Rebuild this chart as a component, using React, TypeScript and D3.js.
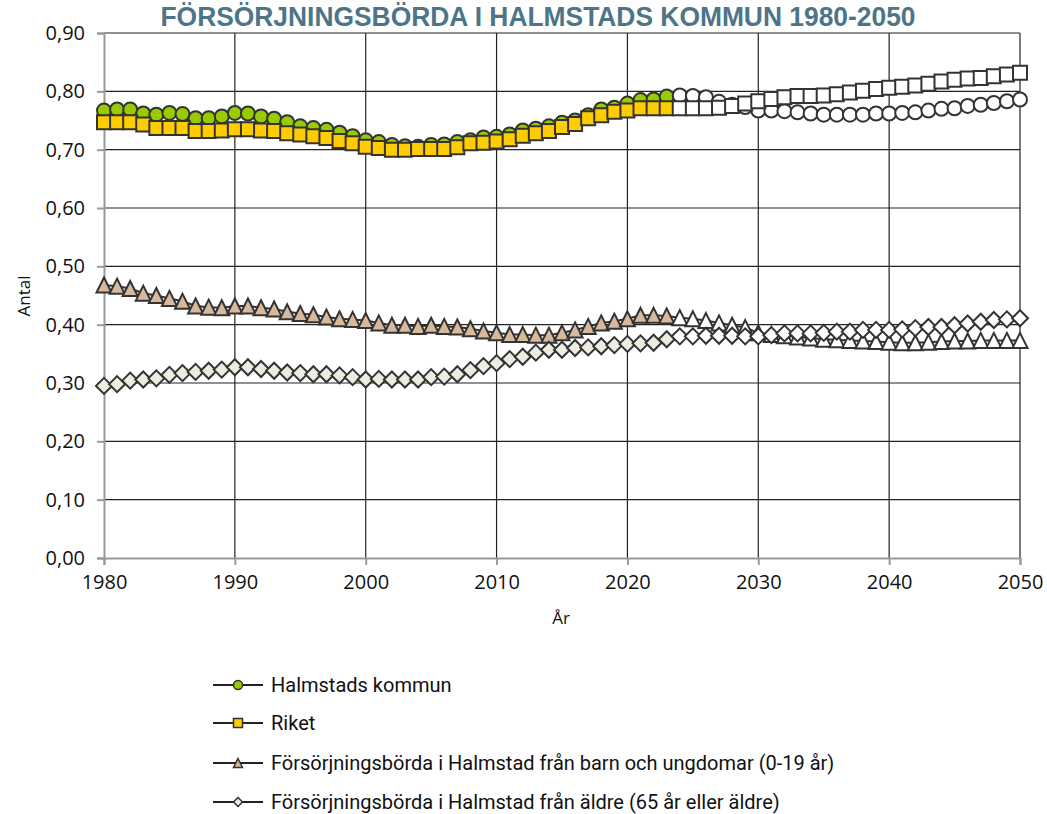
import { useEffect, useRef } from 'react'
import * as d3 from 'd3'

const years = d3.range(1980, 2051)
const lastActualYear = 2023

const halmstad = [
  0.767, 0.769, 0.769, 0.762, 0.760, 0.763, 0.761, 0.754, 0.754, 0.757,
  0.763, 0.762, 0.757, 0.753, 0.747, 0.740, 0.737, 0.734, 0.729, 0.723,
  0.716, 0.713, 0.708, 0.706, 0.705, 0.708, 0.709, 0.713, 0.716, 0.721,
  0.722, 0.726, 0.733, 0.736, 0.740, 0.746, 0.750, 0.759, 0.769, 0.772,
  0.779, 0.785, 0.786, 0.791, 0.793, 0.792, 0.790, 0.782, 0.777, 0.773,
  0.767, 0.767, 0.766, 0.764, 0.762, 0.760, 0.760, 0.760, 0.760, 0.762,
  0.762, 0.763, 0.764, 0.767, 0.770, 0.771, 0.775, 0.777, 0.780, 0.783, 0.786,
]

const riket = [
  0.747, 0.747, 0.747, 0.743, 0.737, 0.737, 0.737, 0.732, 0.732, 0.733,
  0.735, 0.735, 0.733, 0.732, 0.728, 0.726, 0.723, 0.720, 0.715, 0.711,
  0.705, 0.703, 0.700, 0.700, 0.701, 0.701, 0.701, 0.704, 0.711, 0.712,
  0.714, 0.718, 0.724, 0.728, 0.732, 0.739, 0.744, 0.754, 0.759, 0.765,
  0.767, 0.771, 0.771, 0.771, 0.771, 0.771, 0.771, 0.772, 0.775, 0.779,
  0.783, 0.787, 0.790, 0.792, 0.792, 0.793, 0.795, 0.798, 0.801, 0.804,
  0.806, 0.808, 0.810, 0.813, 0.817, 0.820, 0.822, 0.823, 0.826, 0.829, 0.832,
]

const youth = [
  0.468, 0.466, 0.462, 0.454, 0.450, 0.445, 0.440, 0.432, 0.430, 0.429,
  0.432, 0.432, 0.429, 0.427, 0.422, 0.419, 0.417, 0.413, 0.410, 0.409,
  0.407, 0.403, 0.399, 0.399, 0.397, 0.399, 0.397, 0.396, 0.393, 0.389,
  0.386, 0.383, 0.383, 0.382, 0.382, 0.386, 0.391, 0.397, 0.403, 0.406,
  0.410, 0.416, 0.416, 0.415, 0.412, 0.410, 0.407, 0.403, 0.399, 0.395,
  0.386, 0.383, 0.381, 0.379, 0.377, 0.375, 0.374, 0.373, 0.372, 0.371,
  0.370, 0.369, 0.369, 0.370, 0.371, 0.372, 0.372, 0.373, 0.373, 0.373, 0.373,
]

const elderly = [
  0.295, 0.298, 0.304, 0.306, 0.308, 0.314, 0.317, 0.319, 0.321, 0.323,
  0.327, 0.327, 0.324, 0.321, 0.318, 0.317, 0.315, 0.315, 0.313, 0.310,
  0.306, 0.307, 0.306, 0.306, 0.306, 0.310, 0.311, 0.315, 0.322, 0.329,
  0.334, 0.341, 0.345, 0.352, 0.357, 0.357, 0.360, 0.361, 0.363, 0.365,
  0.367, 0.368, 0.369, 0.375, 0.380, 0.380, 0.381, 0.381, 0.381, 0.380,
  0.380, 0.382, 0.385, 0.385, 0.385, 0.386, 0.388, 0.388, 0.391, 0.391,
  0.391, 0.392, 0.394, 0.396, 0.396, 0.399, 0.402, 0.405, 0.408, 0.409, 0.411,
]

const yTicks = [0, 0.1, 0.2, 0.3, 0.4, 0.5, 0.6, 0.7, 0.8, 0.9]
const xTicks = [1980, 1990, 2000, 2010, 2020, 2030, 2040, 2050]

type Shape = 'circle' | 'square' | 'triangle' | 'diamond'

const series: { name: string; values: number[]; shape: Shape; fill: string }[] = [
  { name: 'Halmstads kommun', values: halmstad, shape: 'circle', fill: '#99CC00' },
  { name: 'Riket', values: riket, shape: 'square', fill: '#FFCC00' },
  { name: 'Försörjningsbörda i Halmstad från barn och ungdomar (0-19 år)', values: youth, shape: 'triangle', fill: '#D9B99B' },
  { name: 'Försörjningsbörda i Halmstad från äldre (65 år eller äldre)', values: elderly, shape: 'diamond', fill: '#EEEBE0' },
]

// marker outline centred on 0,0
function markerPath(shape: Shape, s: number) {
  const h = s / 2
  switch (shape) {
    case 'circle':
      return `M${-h},0A${h},${h} 0 1,0 ${h},0A${h},${h} 0 1,0 ${-h},0Z`
    case 'square':
      return `M${-h},${-h}H${h}V${h}H${-h}Z`
    case 'triangle':
      return `M0,${-h}L${h},${h}L${-h},${h}Z`
    default:
      return `M0,${-h}L${h},0L0,${h}L${-h},0Z`
  }
}

const FONT = 'Open Sans, Arial, sans-serif'

export default function App() {
  const svgRef = useRef<SVGSVGElement>(null)

  useEffect(() => {
    if (!svgRef.current) return
    const svg = d3.select(svgRef.current)
    svg.selectAll('*').remove()

    const x = d3.scaleLinear().domain([1980, 2050]).range([104, 1020])
    const y = d3.scaleLinear().domain([0, 0.9]).range([558, 33])

    // Title
    svg.append('text')
      .attr('x', 538)
      .attr('y', 26)
      .attr('text-anchor', 'middle')
      .attr('textLength', 755)
      .attr('lengthAdjust', 'spacingAndGlyphs')
      .style('font-family', 'Liberation Sans Narrow, Arial Narrow, sans-serif')
      .style('font-weight', 'bold')
      .style('font-size', '27px')
      .style('fill', '#4D7587')
      .text('FÖRSÖRJNINGSBÖRDA I HALMSTADS KOMMUN 1980-2050')

    // Grid
    svg.append('g')
      .selectAll('line')
      .data(yTicks.slice(1))
      .enter()
      .append('line')
      .attr('x1', x(1980))
      .attr('x2', x(2050))
      .attr('y1', d => y(d))
      .attr('y2', d => y(d))
      .attr('stroke', '#222')
      .attr('stroke-width', 1.2)

    svg.append('g')
      .selectAll('line')
      .data(xTicks.slice(1))
      .enter()
      .append('line')
      .attr('x1', d => x(d))
      .attr('x2', d => x(d))
      .attr('y1', y(0))
      .attr('y2', y(0.9))
      .attr('stroke', '#222')
      .attr('stroke-width', 1.2)

    // Y axis
    const yAxis = svg.append('g')
      .attr('transform', `translate(${x(1980)},0)`)
      .call(d3.axisLeft(y).tickValues(yTicks).tickSize(7).tickPadding(12)
        .tickFormat(d => d3.format('.2f')(d as number).replace('.', ',')))
    yAxis.select('.domain').attr('stroke', '#999').attr('stroke-width', 2)
    yAxis.selectAll('.tick line').attr('stroke', '#999').attr('stroke-width', 2)
    yAxis.selectAll('text')
      .style('font-family', FONT)
      .style('font-size', '20px')
      .style('fill', '#111')

    // X axis
    const xAxis = svg.append('g')
      .attr('transform', `translate(0,${y(0)})`)
      .call(d3.axisBottom(x).tickValues(xTicks).tickSize(7).tickPadding(10)
        .tickFormat(d => String(d)))
    xAxis.select('.domain').attr('stroke', '#999').attr('stroke-width', 2)
    xAxis.selectAll('.tick line').attr('stroke', '#999').attr('stroke-width', 2)
    xAxis.selectAll('text')
      .style('font-family', FONT)
      .style('font-size', '20px')
      .style('fill', '#111')

    // Axis titles
    svg.append('text')
      .attr('transform', 'translate(30,296) rotate(-90)')
      .attr('text-anchor', 'middle')
      .style('font-family', FONT)
      .style('font-size', '17px')
      .style('fill', '#111')
      .text('Antal')

    svg.append('text')
      .attr('x', 561)
      .attr('y', 624)
      .attr('text-anchor', 'middle')
      .style('font-family', FONT)
      .style('font-size', '17px')
      .style('fill', '#111')
      .text('År')

    // Series
    const line = d3.line<number>()
      .x((_, i) => x(years[i]))
      .y(d => y(d))

    const sizes: Record<Shape, number> = { circle: 14, square: 14, triangle: 15, diamond: 16 }

    series.forEach(s => {
      const g = svg.append('g')
      g.append('path')
        .datum(s.values)
        .attr('d', line)
        .attr('fill', 'none')
        .attr('stroke', '#333')
        .attr('stroke-width', 2)

      g.selectAll('.marker')
        .data(s.values)
        .enter()
        .append('path')
        .attr('class', 'marker')
        .attr('transform', (d, i) => `translate(${x(years[i])},${y(d)})`)
        .attr('d', markerPath(s.shape, sizes[s.shape]))
        .attr('fill', (_, i) => (years[i] <= lastActualYear ? s.fill : '#fff'))
        .attr('stroke', '#333')
        .attr('stroke-width', 2)
    })

    // Legend
    const legend = svg.append('g')
    const rowY = [685, 723, 763, 802]
    series.forEach((s, i) => {
      const row = legend.append('g').attr('transform', `translate(0,${rowY[i]})`)
      row.append('line')
        .attr('x1', 213)
        .attr('x2', 263)
        .attr('stroke', '#222')
        .attr('stroke-width', 2)
      row.append('path')
        .attr('transform', 'translate(238,0)')
        .attr('d', markerPath(s.shape, 9))
        .attr('fill', s.fill)
        .attr('stroke', '#333')
        .attr('stroke-width', 1.5)
      row.append('text')
        .attr('x', 271)
        .attr('dy', '0.35em')
        .style('font-family', 'Roboto, Arial, sans-serif')
        .style('font-size', '20px')
        .style('fill', '#111')
        .text(s.name)
    })
  }, [])

  return (
    <svg
      ref={svgRef}
      width={1047}
      height={814}
      style={{ position: 'absolute', left: 0, top: 0, background: '#fff' }}
    />
  )
}
